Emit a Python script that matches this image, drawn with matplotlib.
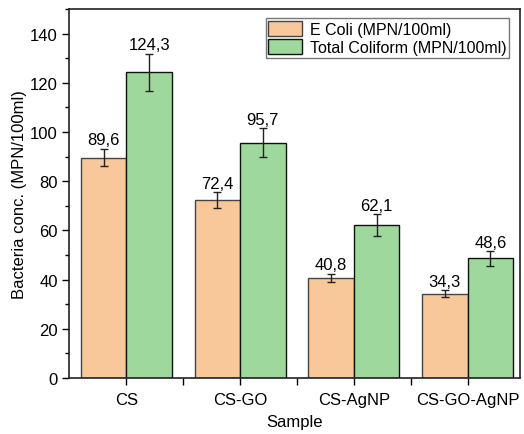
import matplotlib.pyplot as plt
import numpy as np
from matplotlib.ticker import MultipleLocator, FixedLocator

plt.rcParams['font.family'] = ['Liberation Sans', 'DejaVu Sans']

samples = ['CS', 'CS-GO', 'CS-AgNP', 'CS-GO-AgNP']
ecoli = [89.6, 72.4, 40.8, 34.3]
ecoli_err = [3.6, 3.1, 1.6, 1.4]
coliform = [124.3, 95.7, 62.1, 48.6]
coliform_err = [7.5, 5.8, 4.4, 3.0]

orange = '#F9C89A'
green = '#9ED89C'

fig = plt.figure(figsize=(5.24, 4.35), dpi=100)
ax = fig.add_axes([0.1326, 0.1287, 0.8598, 0.8483])

x = np.arange(len(samples))
w = 0.4
err_kw = dict(ecolor='#222222', elinewidth=1, capsize=3, capthick=1)
ax.bar(x - w / 2, ecoli, w, yerr=ecoli_err, color=orange, edgecolor='#444444',
       linewidth=1, error_kw=err_kw, label='E Coli (MPN/100ml)')
ax.bar(x + w / 2, coliform, w, yerr=coliform_err, color=green, edgecolor='#111111',
       linewidth=1, error_kw=err_kw, label='Total Coliform (MPN/100ml)')

# value labels above the error bars, comma as decimal separator
for xs, vals, errs in [(x - w / 2, ecoli, ecoli_err), (x + w / 2, coliform, coliform_err)]:
    for xi, v, e in zip(xs, vals, errs):
        ax.text(xi, v + e + 0.6, f'{v:.1f}'.replace('.', ','), ha='center', va='bottom', fontsize=12)

ax.set_xlim(-0.5, 3.46)
ax.set_ylim(0, 150)
ax.set_xticks(x)
ax.set_xticklabels(samples)
ax.xaxis.set_minor_locator(FixedLocator([0.5, 1.5, 2.5]))
ax.yaxis.set_major_locator(MultipleLocator(20))
ax.yaxis.set_minor_locator(MultipleLocator(10))
ax.tick_params(axis='both', which='major', direction='out', length=5, width=1, labelsize=12)
ax.tick_params(axis='x', which='major', pad=5)
ax.tick_params(axis='both', which='minor', direction='out', length=3, width=1)
ax.tick_params(axis='x', which='minor', length=5)
for s in ax.spines.values():
    s.set_linewidth(1.2)
    s.set_color('#222222')

ax.set_xlabel('Sample', fontsize=12, labelpad=5)
ax.set_ylabel('Bacteria conc. (MPN/100ml)', fontsize=12, labelpad=2)

leg = ax.legend(loc='upper right', fontsize=11.5, frameon=True, fancybox=False,
                edgecolor='#555555', handlelength=2.1, handleheight=1.1,
                borderpad=0.15, labelspacing=0.15, handletextpad=0.5,
                borderaxespad=0, bbox_to_anchor=(0.975, 0.975))
leg.get_frame().set_linewidth(1)

fig.savefig('out.png', dpi=100)
